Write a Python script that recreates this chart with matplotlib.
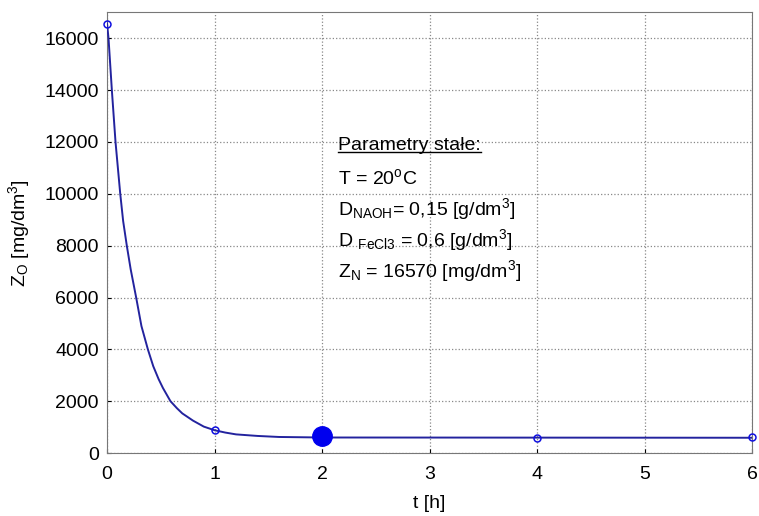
import matplotlib
matplotlib.use("Agg")
import matplotlib.pyplot as plt

plt.rcParams['font.family'] = ['Liberation Sans', 'DejaVu Sans']
plt.rcParams['mathtext.fontset'] = 'custom'
plt.rcParams['mathtext.rm'] = 'Liberation Sans'
plt.rcParams['mathtext.it'] = 'Liberation Sans'

# fitted curve
curve_t = [0, 0.014, 0.045, 0.079, 0.123, 0.15, 0.184, 0.22, 0.271, 0.32, 0.38, 0.43,
           0.48, 0.52, 0.59, 0.65, 0.7, 0.8, 0.9, 1.0, 1.1, 1.2, 1.4, 1.6, 2.0, 6.0]
curve_z = [16570, 16000, 14000, 12000, 10000, 8950, 8000, 7090, 6000, 4900, 4000, 3350,
           2850, 2510, 2000, 1730, 1530, 1250, 1020, 880, 790, 720, 660, 620, 600, 590]

# measured points
meas_t = [0, 1, 4, 6]
meas_z = [16570, 880, 580, 600]
best_t = [2]
best_z = [640]

fig = plt.figure(figsize=(7.59, 5.16), dpi=100)
ax = fig.add_axes([0.141, 0.122, 0.85, 0.854])

ax.plot(curve_t, curve_z, color='#23239e', lw=1.4, zorder=3)
ax.plot(meas_t, meas_z, ls='none', marker='o', ms=5, mfc='none',
        mec='#1010e0', mew=1.1, zorder=4, clip_on=False)
ax.plot(best_t, best_z, ls='none', marker='o', ms=14, color='#0000ee', zorder=5)

ax.set_xlim(0, 6)
ax.set_ylim(0, 17000)
ax.set_xticks(range(0, 7))
ax.set_yticks(range(0, 16001, 2000))
ax.grid(True, ls=':', color='#888888', lw=0.9)
ax.tick_params(labelsize=14, length=3, direction='in')
ax.tick_params(axis='x', pad=9)
ax.tick_params(axis='y', pad=6)
for s in ax.spines.values():
    s.set_color('#777777')

ax.set_xlabel('t [h]', fontsize=14, labelpad=9)
ax.set_ylabel(r'Z$_\mathregular{O}$ [mg/dm$^\mathregular{3}$]', fontsize=14, labelpad=9)

lines = [
    r'T = 20$^\mathregular{o}$C',
    r'D$_\mathregular{NAOH}$= 0,15 [g/dm$^\mathregular{3}$]',
    r'D $_\mathregular{FeCl3}$ = 0,6 [g/dm$^\mathregular{3}$]',
    r'Z$_\mathregular{N}$ = 16570 [mg/dm$^\mathregular{3}$]',
]
x0 = 338 / 759
head = fig.text(x0, 1 - 145 / 516, 'Parametry stałe:', fontsize=14, va='center')
for i, s in enumerate(lines):
    fig.text(x0, 1 - (178 + i * 31) / 516, s, fontsize=14, va='center')

fig.canvas.draw()
bb = head.get_window_extent().transformed(fig.transFigure.inverted())
fig.add_artist(plt.Line2D([bb.x0, bb.x1], [bb.y0 + 0.002, bb.y0 + 0.002],
                          color='black', lw=1.0, transform=fig.transFigure))

fig.savefig('out.png', dpi=100)
